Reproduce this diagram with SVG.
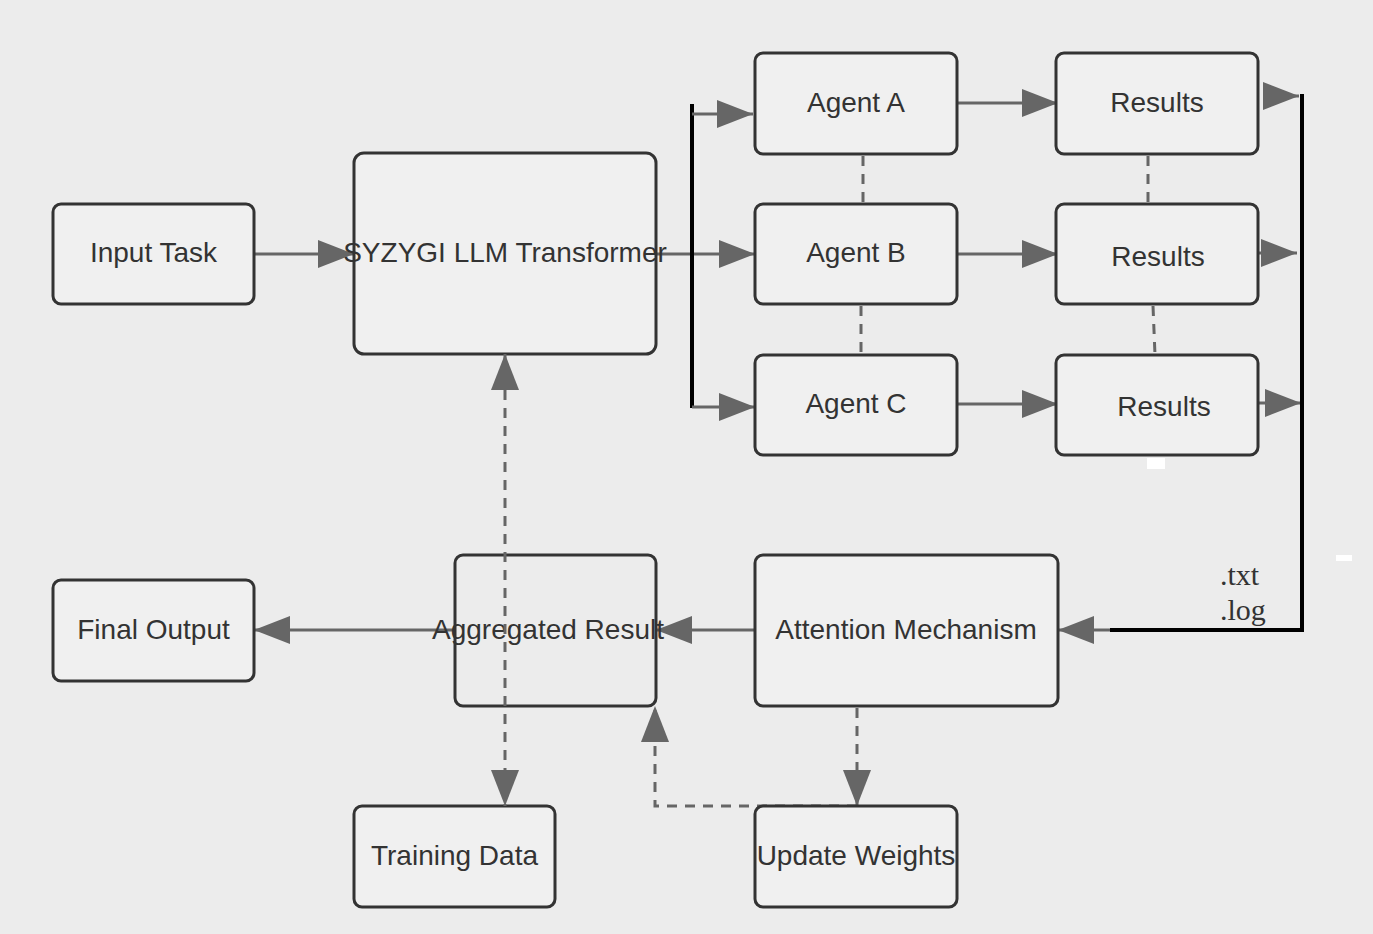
<svg xmlns="http://www.w3.org/2000/svg" width="1373" height="934" viewBox="0 0 1373 934">
  <defs>
    <marker id="arr" viewBox="0 0 36 28" refX="36" refY="14" markerWidth="36" markerHeight="28" markerUnits="userSpaceOnUse" orient="auto">
      <path d="M0,0 L36,14 L0,28 Z" fill="#666"/>
    </marker>
    <marker id="arrS" viewBox="0 0 36 28" refX="0" refY="14" markerWidth="36" markerHeight="28" markerUnits="userSpaceOnUse" orient="auto">
      <path d="M36,0 L0,14 L36,28 Z" fill="#666"/>
    </marker>
  </defs>
  <style>
    .node rect { fill: #f0f0f0; stroke: #333; stroke-width: 3; }
    .node text { font-family: "Liberation Sans", Arial, sans-serif; font-size: 28px; fill: #333; text-anchor: middle; dominant-baseline: central; }
    .flow { stroke: #666; stroke-width: 3; fill: none; }
    .dash { stroke: #666; stroke-width: 3; fill: none; stroke-dasharray: 10 8; }
    .bus { stroke: #000; stroke-width: 4; fill: none; }
    .ext { font-family: "Liberation Serif", "Times New Roman", serif; font-size: 30px; fill: #333; }
  </style>
  <rect width="1373" height="934" fill="#ececec"/>

  <!-- connectors -->
  <g id="connectors">
    <line class="flow" x1="254" y1="254" x2="354" y2="254" marker-end="url(#arr)"/>
    <line class="flow" x1="656" y1="254" x2="755" y2="254" marker-end="url(#arr)"/>
    <line class="bus" x1="692" y1="104" x2="692" y2="408"/>
    <line class="flow" x1="692" y1="114" x2="753" y2="114" marker-end="url(#arr)"/>
    <line class="flow" x1="692" y1="407" x2="755" y2="407" marker-end="url(#arr)"/>
    <line class="flow" x1="957" y1="103" x2="1058" y2="103" marker-end="url(#arr)"/>
    <line class="flow" x1="957" y1="254" x2="1058" y2="254" marker-end="url(#arr)"/>
    <line class="flow" x1="957" y1="404" x2="1058" y2="404" marker-end="url(#arr)"/>
    <line class="flow" x1="1263" y1="96" x2="1299" y2="96" marker-end="url(#arr)"/>
    <line class="flow" x1="1258" y1="253" x2="1297" y2="253" marker-end="url(#arr)"/>
    <line class="flow" x1="1258" y1="403" x2="1301" y2="403" marker-end="url(#arr)"/>
    <polyline class="bus" points="1302,94 1302,630 1110,630"/>
    <line class="flow" x1="1110" y1="630" x2="1058" y2="630" marker-end="url(#arr)"/>
    <line class="dash" x1="863" y1="156" x2="863" y2="204"/>
    <line class="dash" x1="861" y1="306" x2="861" y2="355"/>
    <line class="dash" x1="1148" y1="156" x2="1148" y2="204"/>
    <line class="dash" x1="1153" y1="306" x2="1155" y2="355"/>
    <line class="flow" x1="755" y1="630" x2="656" y2="630" marker-end="url(#arr)"/>
    <line class="flow" x1="455" y1="630" x2="254" y2="630" marker-end="url(#arr)"/>
    <line class="dash" x1="857" y1="708" x2="857" y2="806" marker-end="url(#arr)"/>
    <polyline class="dash" points="857,806 655,806 655,706" marker-end="url(#arr)"/>
  </g>

  <!-- nodes -->
  <g id="input-task" class="node"><rect x="53" y="204" width="201" height="100" rx="8"/><text x="153.5" y="252">Input Task</text></g>
  <g id="syzygi" class="node"><rect x="354" y="153" width="302" height="201" rx="10"/><text x="505" y="252">SYZYGI LLM Transformer</text></g>
  <g id="agent-a" class="node"><rect x="755" y="53" width="202" height="101" rx="8"/><text x="856" y="102">Agent A</text></g>
  <g id="agent-b" class="node"><rect x="755" y="204" width="202" height="100" rx="8"/><text x="856" y="252">Agent B</text></g>
  <g id="agent-c" class="node"><rect x="755" y="355" width="202" height="100" rx="8"/><text x="856" y="403">Agent C</text></g>
  <g id="results-a" class="node"><rect x="1056" y="53" width="202" height="101" rx="8"/><text x="1157" y="102">Results</text></g>
  <g id="results-b" class="node"><rect x="1056" y="204" width="202" height="100" rx="8"/><text x="1158" y="256">Results</text></g>
  <g id="results-c" class="node"><rect x="1056" y="355" width="202" height="100" rx="8"/><text x="1164" y="406">Results</text></g>
  <g id="final-output" class="node"><rect x="53" y="580" width="201" height="101" rx="8"/><text x="153.5" y="629">Final Output</text></g>
  <g id="aggregated" class="node"><rect x="455" y="555" width="201" height="151" rx="8" fill-opacity="0"/><text x="548" y="629">Aggregated Result</text></g>
  <g id="attention" class="node"><rect x="755" y="555" width="303" height="151" rx="8"/><text x="906" y="629">Attention Mechanism</text></g>
  <g id="training-data" class="node"><rect x="354" y="806" width="201" height="101" rx="8"/><text x="454.5" y="855">Training Data</text></g>
  <g id="update-weights" class="node"><rect x="755" y="806" width="202" height="101" rx="8"/><text x="856" y="855">Update Weights</text></g>

  <!-- bidirectional dashed link drawn over the aggregation box -->
  <g id="connectors-overlay">
    <line class="dash" x1="505" y1="354" x2="505" y2="806" marker-start="url(#arrS)" marker-end="url(#arr)"/>
  </g>

  <text class="ext" x="1220" y="585">.txt</text>
  <text class="ext" x="1220" y="620">.log</text>

  <rect x="1336" y="555" width="16" height="6" fill="#fff"/>
  <rect x="1147" y="458" width="18" height="11" fill="#fff"/>
</svg>
